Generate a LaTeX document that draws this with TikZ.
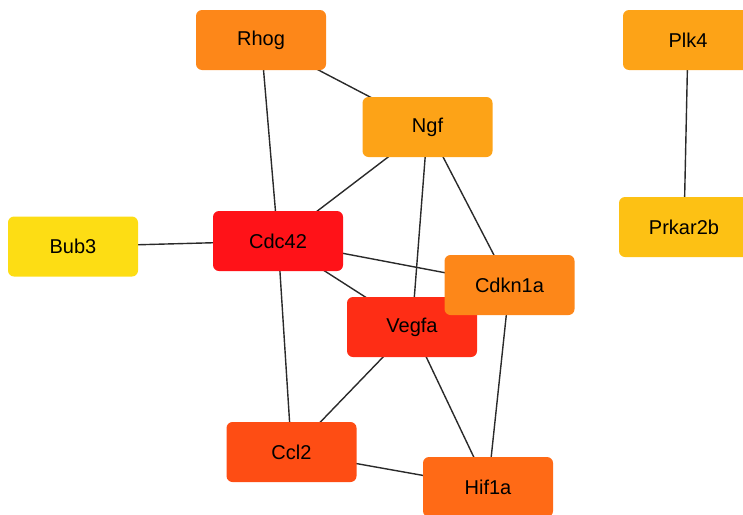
\documentclass[tikz,border=0pt]{standalone}
\usepackage{fontspec}
\setmainfont{Liberation Sans}
\definecolor{cRhog}{HTML}{FD8719}
\definecolor{cNgf}{HTML}{FDA317}
\definecolor{cPlk}{HTML}{FDA317}
\definecolor{cPrk}{HTML}{FDC114}
\definecolor{cBub}{HTML}{FDDD14}
\definecolor{cCdc}{HTML}{FF1218}
\definecolor{cCdk}{HTML}{FD8719}
\definecolor{cVeg}{HTML}{FE2D15}
\definecolor{cCcl}{HTML}{FE4D14}
\definecolor{cHif}{HTML}{FF6A16}
\definecolor{edgec}{HTML}{2A2A2A}
\tikzset{
  gene/.style={rectangle, rounded corners=6pt, minimum width=130pt, minimum height=60pt, inner sep=0pt, font=\fontsize{20}{24}\selectfont, text=black},
  link/.style={draw=edgec, line width=1.4pt}
}
\begin{document}
\begin{tikzpicture}[x=1pt,y=-1pt]
\useasboundingbox (0,0) rectangle (743,514);
\clip (0,0) rectangle (743,514);
\coordinate (pRhog) at (261,40);
\coordinate (pNgf) at (427.5,127);
\coordinate (pPlk) at (688,40);
\coordinate (pPrk) at (684,227);
\coordinate (pBub) at (73,246.5);
\coordinate (pCdc) at (278,241);
\coordinate (pCdk) at (509.5,285);
\coordinate (pVeg) at (412,327);
\coordinate (pCcl) at (291.5,452);
\coordinate (pHif) at (488,487);
\draw[link] (pRhog) -- (pCdc);
\draw[link] (pRhog) -- (pNgf);
\draw[link] (pNgf) -- (pCdc);
\draw[link] (pNgf) -- (pVeg);
\draw[link] (pNgf) -- (pCdk);
\draw[link] (pPlk) -- (pPrk);
\draw[link] (pBub) -- (pCdc);
\draw[link] (pCdc) -- (pCdk);
\draw[link] (pCdc) -- (pVeg);
\draw[link] (pCdc) -- (pCcl);
\draw[link] (pVeg) -- (pCcl);
\draw[link] (pVeg) -- (pHif);
\draw[link] (pCdk) -- (pHif);
\draw[link] (pCcl) -- (pHif);
\node[gene, fill=cRhog] (Rhog) at (pRhog) {Rhog};
\node[gene, fill=cNgf] (Ngf) at (pNgf) {Ngf};
\node[gene, fill=cPlk] (Plk4) at (pPlk) {Plk4};
\node[gene, fill=cPrk] (Prkar2b) at (pPrk) {Prkar2b};
\node[gene, fill=cBub] (Bub3) at (pBub) {Bub3};
\node[gene, fill=cCdc] (Cdc42) at (pCdc) {Cdc42};
\node[gene, fill=cVeg] (Vegfa) at (pVeg) {Vegfa};
\node[gene, fill=cCdk] (Cdkn1a) at (pCdk) {Cdkn1a};
\node[gene, fill=cCcl] (Ccl2) at (pCcl) {Ccl2};
\node[gene, fill=cHif] (Hif1a) at (pHif) {Hif1a};
\end{tikzpicture}
\end{document}
